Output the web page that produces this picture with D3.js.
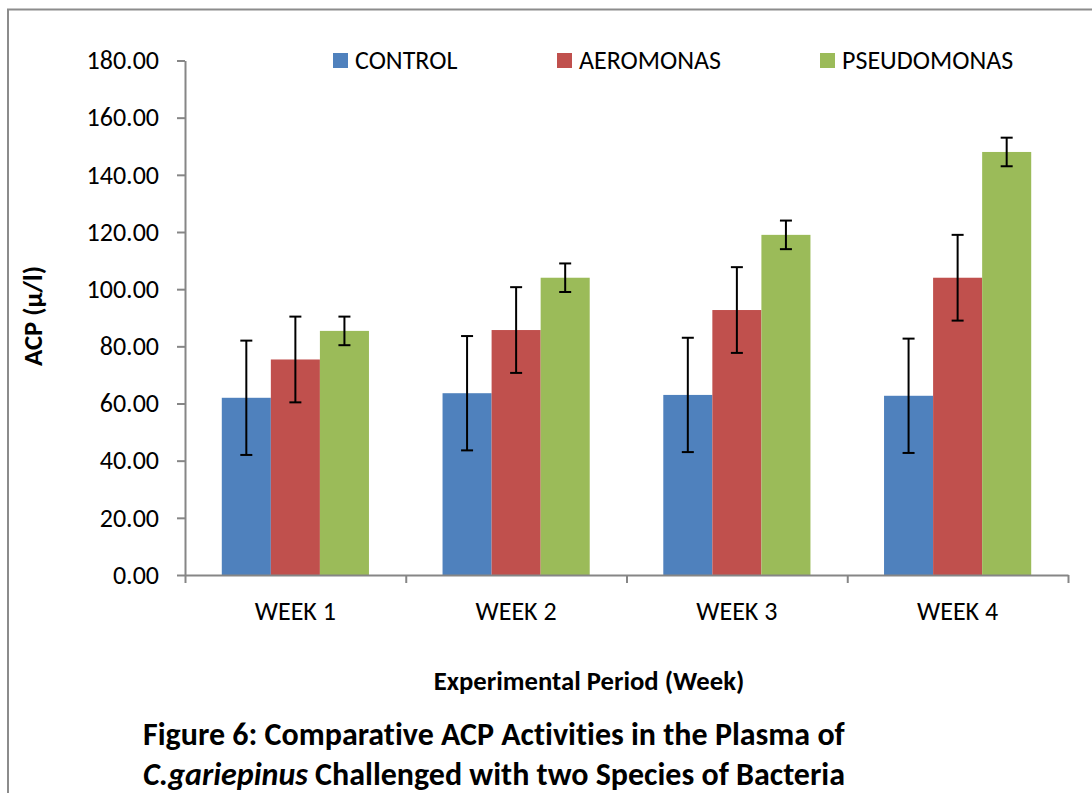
<!DOCTYPE html>
<html>
<head>
<meta charset="utf-8">
<script src="https://cdn.jsdelivr.net/npm/d3@7"></script>
<style>
  body { margin: 0; background: #fff; }
  svg { display: block; font-family: Carlito, Calibri, Lato, sans-serif; font-variant-ligatures: none; }
</style>
</head>
<body>
<svg id="svg1" width="1092" height="793"></svg>
<script>
// data
var weeks = ['WEEK 1', 'WEEK 2', 'WEEK 3', 'WEEK 4'];
var seriesNames = ['CONTROL', 'AEROMONAS', 'PSEUDOMONAS'];
var control = [62.0, 63.6, 63.0, 62.7];
var aeromonas = [75.4, 85.7, 92.7, 104.0];
var pseudomonas = [85.4, 104.0, 119.0, 148.0];
var controlErr = [20, 20, 20, 20];
var aeromonasErr = [15, 15, 15, 15];
var pseudomonasErr = [5, 5, 5, 5];
var yTicks = [0, 20, 40, 60, 80, 100, 120, 140, 160, 180];
var colors = ['#4F81BD', '#C0504D', '#9BBB59'];

var values = [control, aeromonas, pseudomonas];
var errors = [controlErr, aeromonasErr, pseudomonasErr];

var svg = d3.select('#svg1');
var fontStack = 'Carlito, Calibri, Lato, sans-serif';

// outer frame (only top and left edges are visible in the picture)
svg.append('path')
    .attr('d', 'M8,800V9.5H1100')
    .attr('fill', 'none')
    .attr('stroke', '#8c8c8c')
    .attr('stroke-width', 2);

var plotLeft = 185, plotRight = 1068, plotTop = 60.5, plotBottom = 575;

var y = d3.scaleLinear()
    .domain([0, 180])
    .range([plotBottom, plotTop]);

var x0 = d3.scaleBand()
    .domain(weeks)
    .range([plotLeft, plotRight])
    .paddingInner(1 / 3)
    .paddingOuter(1 / 6);

var x1 = d3.scaleBand()
    .domain(seriesNames)
    .range([0, x0.bandwidth()]);

var xEdge = d3.scaleLinear()
    .domain([0, weeks.length])
    .range([plotLeft, plotRight]);

// bars
var groups = svg.selectAll('.week')
    .data(weeks)
    .enter()
    .append('g')
    .attr('class', 'week')
    .attr('transform', function(d) { return 'translate(' + x0(d) + ',0)'; });

function rows(d, i) {
    return seriesNames.map(function(s, j) {
        return {name: s, k: j, v: values[j][i], e: errors[j][i]};
    });
}

groups.selectAll('rect')
    .data(rows)
    .enter()
    .append('rect')
    .attr('x', function(d) { return x1(d.name); })
    .attr('y', function(d) { return y(d.v); })
    .attr('width', x1.bandwidth())
    .attr('height', function(d) { return y(0) - y(d.v); })
    .attr('fill', function(d) { return colors[d.k]; });

// error bars
var err = groups.selectAll('.err')
    .data(rows)
    .enter()
    .append('g')
    .attr('class', 'err')
    .attr('transform', function(d) { return 'translate(' + (x1(d.name) + x1.bandwidth() / 2) + ',0)'; })
    .attr('stroke', '#000')
    .attr('stroke-width', 2);

err.append('line')
    .attr('y1', function(d) { return y(d.v - d.e); })
    .attr('y2', function(d) { return y(d.v + d.e); });
err.append('line')
    .attr('x1', -6).attr('x2', 6)
    .attr('y1', function(d) { return y(d.v + d.e); })
    .attr('y2', function(d) { return y(d.v + d.e); });
err.append('line')
    .attr('x1', -6).attr('x2', 6)
    .attr('y1', function(d) { return y(d.v - d.e); })
    .attr('y2', function(d) { return y(d.v - d.e); });

// y axis
svg.append('g')
    .attr('class', 'axis')
    .attr('transform', 'translate(' + plotLeft + ',0)')
    .call(d3.axisLeft(y)
        .tickValues(yTicks)
        .tickFormat(d3.format('.2f'))
        .tickSize(8)
        .tickSizeOuter(0)
        .tickPadding(18));

// x axis: ticks on category edges, labels centred
svg.append('g')
    .attr('class', 'axis')
    .attr('transform', 'translate(0,' + plotBottom + ')')
    .call(d3.axisBottom(xEdge)
        .tickValues(d3.range(weeks.length + 1))
        .tickFormat('')
        .tickSize(8)
        .tickSizeOuter(0));

var xLabels = svg.append('g')
    .attr('class', 'axis')
    .attr('transform', 'translate(0,' + plotBottom + ')')
    .call(d3.axisBottom(x0).tickSize(0).tickPadding(27));
xLabels.select('.domain').remove();

svg.selectAll('.axis')
    .attr('font-family', fontStack)
    .attr('font-size', 26);
svg.selectAll('.domain, .tick line')
    .attr('stroke', '#868686')
    .attr('stroke-width', 2);
svg.selectAll('.tick text')
    .attr('fill', '#000');

// legend
var legendX = [333, 557, 820];
var legend = svg.selectAll('.legend')
    .data(seriesNames)
    .enter()
    .append('g')
    .attr('class', 'legend')
    .attr('transform', function(d, i) { return 'translate(' + legendX[i] + ',60.5)'; });
legend.append('rect')
    .attr('y', -7.5)
    .attr('width', 15)
    .attr('height', 15)
    .attr('fill', function(d, i) { return colors[i]; });
legend.append('text')
    .attr('x', 22)
    .attr('dy', '0.33em')
    .attr('font-size', 26)
    .text(function(d) { return d; });

// axis titles
svg.append('text')
    .attr('transform', 'translate(42,316) rotate(-90)')
    .attr('text-anchor', 'middle')
    .attr('font-size', 26.7)
    .attr('font-weight', 'bold')
    .text('ACP (µ/l)');

svg.append('text')
    .attr('x', 589)
    .attr('y', 690)
    .attr('text-anchor', 'middle')
    .attr('font-size', 26.7)
    .attr('font-weight', 'bold')
    .text('Experimental Period (Week)');

// caption
var cap = svg.append('text')
    .attr('x', 143)
    .attr('font-size', 32)
    .attr('font-weight', 'bold');
cap.append('tspan')
    .attr('x', 143)
    .attr('y', 745)
    .text('Figure 6: Comparative ACP Activities in the Plasma of');
cap.append('tspan')
    .attr('x', 143)
    .attr('y', 785)
    .attr('font-style', 'italic')
    .text('C.gariepinus');
cap.append('tspan')
    .text(' Challenged with two Species of Bacteria');
</script>
</body>
</html>
